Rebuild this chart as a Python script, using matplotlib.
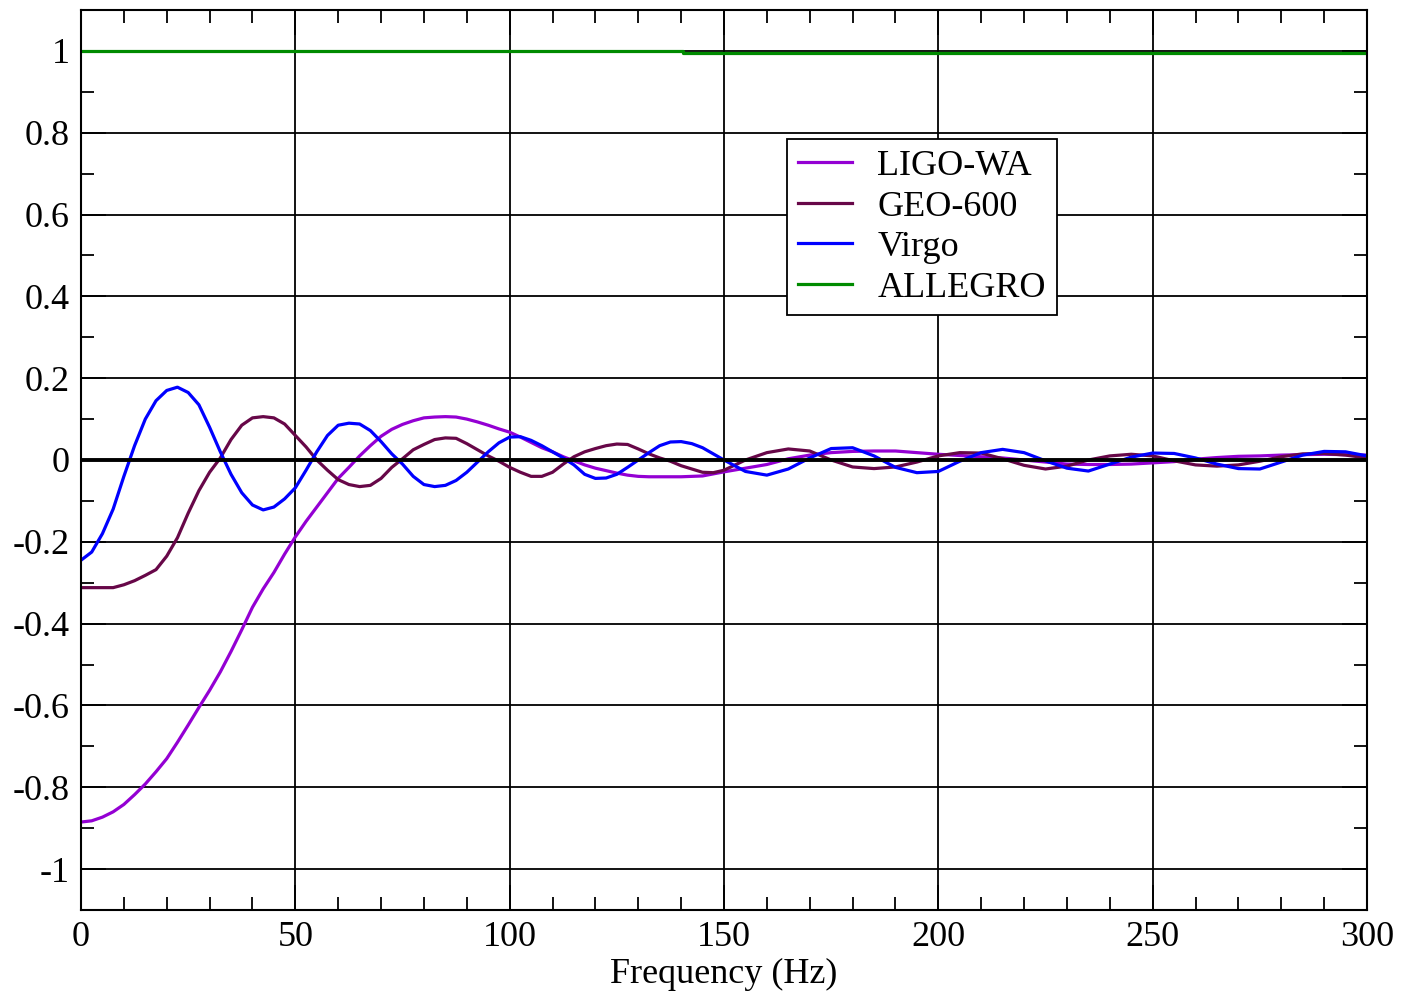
import numpy as np
import matplotlib
matplotlib.use("Agg")
import matplotlib.pyplot as plt
from matplotlib.ticker import MultipleLocator

plt.rcParams['font.family'] = ['Liberation Serif', 'DejaVu Serif']

# frequency grid: 2.5 Hz steps up to 150, then 5 Hz
freq = [0, 2.5, 5, 7.5, 10, 12.5, 15, 17.5, 20, 22.5, 25, 27.5, 30, 32.5, 35, 37.5,
        40, 42.5, 45, 47.5, 50, 52.5, 55, 57.5, 60, 62.5, 65, 67.5, 70, 72.5, 75, 77.5,
        80, 82.5, 85, 87.5, 90, 92.5, 95, 97.5, 100, 102.5, 105, 107.5, 110, 112.5, 115,
        117.5, 120, 122.5, 125, 127.5, 130, 132.5, 135, 137.5, 140, 142.5, 145, 147.5, 150,
        155, 160, 165, 170, 175, 180, 185, 190, 195, 200, 205, 210, 215, 220, 225, 230,
        235, 240, 245, 250, 255, 260, 265, 270, 275, 280, 285, 290, 295, 300]

ligo_wa = [-0.885, -0.882, -0.873, -0.86, -0.842, -0.818, -0.792, -0.762, -0.73, -0.69,
           -0.648, -0.605, -0.563, -0.518, -0.468, -0.415, -0.36, -0.315, -0.275, -0.23,
           -0.188, -0.15, -0.115, -0.08, -0.045, -0.018, 0.01, 0.035, 0.058, 0.075,
           0.087, 0.096, 0.103, 0.105, 0.106, 0.105, 0.1, 0.093, 0.085, 0.076,
           0.068, 0.056, 0.043, 0.03, 0.02, 0.008, -0.002, -0.012, -0.02, -0.026,
           -0.032, -0.037, -0.04, -0.041, -0.041, -0.041, -0.041, -0.04, -0.039, -0.034,
           -0.029, -0.02, -0.011, 0.003, 0.012, 0.018, 0.021, 0.022, 0.022, 0.018,
           0.014, 0.011, 0.008, 0.005, 0.0, -0.005, -0.01, -0.011, -0.011, -0.01,
           -0.007, -0.004, 0.002, 0.006, 0.009, 0.01, 0.012, 0.013, 0.014, 0.013, 0.012]

geo_600 = [-0.312, -0.312, -0.312, -0.312, -0.305, -0.295, -0.282, -0.268, -0.235, -0.19,
           -0.13, -0.075, -0.03, 0.005, 0.05, 0.085, 0.103, 0.106, 0.103, 0.088,
           0.06, 0.032, 0.0, -0.025, -0.048, -0.06, -0.065, -0.062, -0.045, -0.018,
           0.003, 0.025, 0.038, 0.05, 0.054, 0.053, 0.04, 0.025, 0.01, -0.003,
           -0.018, -0.03, -0.04, -0.04, -0.03, -0.01, 0.008, 0.02, 0.028, 0.035,
           0.039, 0.038, 0.027, 0.015, 0.005, -0.003, -0.014, -0.022, -0.03, -0.031,
           -0.025, 0.0, 0.018, 0.027, 0.022, 0.0, -0.017, -0.021, -0.017, -0.005,
           0.01, 0.018, 0.017, 0.003, -0.013, -0.022, -0.015, 0.0, 0.01, 0.014,
           0.01, -0.002, -0.012, -0.015, -0.012, -0.003, 0.008, 0.015, 0.016, 0.012, 0.005]

virgo = [-0.245, -0.225, -0.18, -0.12, -0.04, 0.035, 0.10, 0.145, 0.17, 0.178,
         0.165, 0.135, 0.08, 0.02, -0.035, -0.08, -0.11, -0.122, -0.115, -0.095,
         -0.068, -0.025, 0.02, 0.06, 0.085, 0.09, 0.088, 0.072, 0.045, 0.015,
         -0.01, -0.04, -0.06, -0.065, -0.062, -0.05, -0.03, -0.005, 0.02, 0.042,
         0.056, 0.057, 0.048, 0.035, 0.02, 0.005, -0.012, -0.035, -0.045, -0.044,
         -0.035, -0.018, 0.0, 0.018, 0.035, 0.044, 0.045, 0.04, 0.03, 0.015,
         0.0, -0.028, -0.037, -0.022, 0.005, 0.028, 0.03, 0.01, -0.018, -0.031,
         -0.028, -0.003, 0.018, 0.026, 0.018, -0.002, -0.02, -0.027, -0.01, 0.007,
         0.017, 0.016, 0.005, -0.01, -0.021, -0.022, -0.005, 0.012, 0.021, 0.02, 0.01]

allegro_freq = [0, 140.5, 140.5, 300]
allegro = [1.0, 1.0, 0.994, 0.994]

fig = plt.figure(figsize=(14.01, 9.98), dpi=100)
ax = fig.add_axes([81/1401, 1-910/998, (1367-81)/1401, 900/998])

ax.plot(freq, ligo_wa, color='#9400D3', lw=2.3, label='LIGO-WA')
ax.plot(freq, geo_600, color='#670748', lw=2.3, label='GEO-600')
ax.plot(freq, virgo, color='#0000FF', lw=2.3, label='Virgo')
ax.plot(allegro_freq, allegro, color='#008B00', lw=2.3, label='ALLEGRO')
# zero line drawn over the curves
ax.axhline(0, color='black', lw=2.8, zorder=3)

ax.set_xlim(0, 300)
ax.set_ylim(-1.1, 1.1)
ax.xaxis.set_major_locator(MultipleLocator(50))
ax.xaxis.set_minor_locator(MultipleLocator(10))
ax.yaxis.set_minor_locator(MultipleLocator(0.1))
ax.set_yticks([-1, -0.8, -0.6, -0.4, -0.2, 0, 0.2, 0.4, 0.6, 0.8, 1])
ax.set_yticklabels(['-1', '-0.8', '-0.6', '-0.4', '-0.2', '0', '0.2', '0.4', '0.6', '0.8', '1'])
ax.grid(True, which='major', color='black', lw=1.3)
ax.set_axisbelow(True)
ax.tick_params(which='both', direction='in', top=True, right=True, labelsize=26, width=1.3)
ax.tick_params(which='major', length=18, pad=8)
ax.tick_params(which='minor', length=9.5)
for s in ax.spines.values():
    s.set_linewidth(1.5)

ax.set_xlabel('Frequency (Hz)', fontsize=26, labelpad=3)

leg = ax.legend(loc='upper left', bbox_to_anchor=(787/1401, 1-139/998),
                bbox_transform=fig.transFigure, fontsize=26, frameon=True,
                fancybox=False, edgecolor='black', framealpha=1,
                handlelength=1.5, handletextpad=0.7, labelspacing=0.2,
                borderpad=0.3, borderaxespad=0)
leg.get_frame().set_linewidth(1.3)
leg.set_zorder(5)

fig.savefig('out.png', dpi=100)
